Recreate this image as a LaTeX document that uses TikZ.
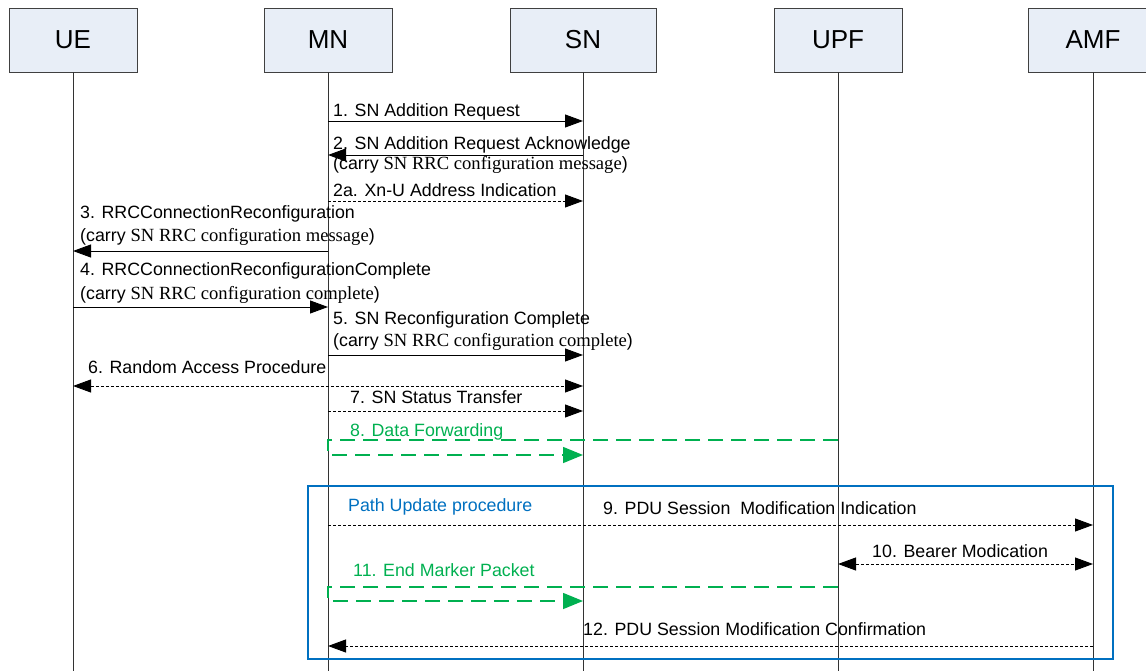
\documentclass[tikz,border=0pt]{standalone}
\usepackage{fontspec}
\setmainfont{Liberation Sans}
\newfontfamily\tms{Liberation Serif}
\usetikzlibrary{arrows.meta}
\definecolor{headfill}{RGB}{232,238,247}
\definecolor{fwdgreen}{RGB}{0,176,80}
\definecolor{procblue}{RGB}{0,112,192}
% second line of the RRC messages
\newcommand{\Carry}[1]{(carry {\tms\fontsize{18.6}{22}\selectfont SN RRC configuration #1})}
\tikzset{
	head/.style={draw=black!75,fill=headfill,minimum height=64pt,inner sep=0pt,font=\fontsize{26}{30}\selectfont},
	life/.style={line width=0.9pt,black!80},
	msg/.style={line width=0.9pt,-{Triangle[length=18pt,width=13pt]}},
	dmsg/.style={msg,dash pattern=on 3pt off 2pt},
	bimsg/.style={dmsg,{Triangle[length=18pt,width=13pt]}-{Triangle[length=18pt,width=13pt]}},
	fwd/.style={line width=1.5pt,fwdgreen,dash pattern=on 15pt off 8pt,-{Triangle[length=20pt,width=16pt]}},
	lbl/.style={anchor=base west,inner sep=0pt,font=\fontsize{17.8}{22}\selectfont},
}
\begin{document}
\begin{tikzpicture}[x=1pt,y=-1pt]
	\useasboundingbox (0,0) rectangle (1146,671);
	%heads and lifelines
	\foreach \n/\x/\w in {UE/73/128,MN/328/128,SN/583/146,UPF/838/128,AMF/1093/130}{
		\node[head,minimum width=\w pt] (\n) at (\x,40) {\n};
		\draw[life] (\n.south) -- (\n |- 0,671);
	}
	%1
	\node[lbl] (l1) at (333,117) {1. SN Addition Request};
	\draw[msg] (MN |- 0,121) -- (SN |- 0,121);
	%2
	\node[lbl] (l2) at (333,150) {2. SN Addition Request Acknowledge};
	\node[lbl] (l2b) at (333,170) {\Carry{message}};
	\draw[msg] (SN |- 0,155) -- (MN |- 0,155);
	%2a
	\node[lbl] (l2a) at (333,197) {2a. Xn-U Address Indication};
	\draw[dmsg] (MN |- 0,201) -- (SN |- 0,201);
	%3
	\node[lbl] (l3) at (80,219) {3. RRCConnectionReconfiguration};
	\node[lbl] (l3b) at (80,242) {\Carry{message}};
	\draw[msg] (MN |- 0,251) -- (UE |- 0,251);
	%4
	\node[lbl] (l4) at (80,276) {4. RRCConnectionReconfigurationComplete};
	\node[lbl] (l4b) at (80,299) {\Carry{complete}};
	\draw[msg] (UE |- 0,307) -- (MN |- 0,307);
	%5
	\node[lbl] (l5) at (333,324) {5. SN Reconfiguration Complete};
	\node[lbl] (l5b) at (333,346) {\Carry{complete}};
	\draw[msg] (MN |- 0,355) -- (SN |- 0,355);
	%6
	\node[lbl] (l6) at (88,373) {6. Random Access Procedure};
	\draw[bimsg] (UE |- 0,386) -- (SN |- 0,386);
	%7
	\node[lbl] (l7) at (350,403) {7. SN Status Transfer};
	\draw[dmsg] (MN |- 0,411) -- (SN |- 0,411);
	%8
	\node[lbl,fwdgreen] (l8) at (350,436) {8. Data Forwarding};
	\draw[fwd] (UPF |- 0,440) -- (MN |- 0,440) -- (MN |- 0,455) -- (SN |- 0,455);
	%path update
	\draw[procblue,line width=1.3pt] (308,486) rectangle (1113,659);
	\node[lbl,procblue] (pu) at (348,511) {Path Update procedure};
	%9
	\node[lbl] (l9) at (603,514) {9. PDU Session\ \ Modification Indication};
	\draw[dmsg] (MN |- 0,525) -- (AMF |- 0,525);
	%10
	\node[lbl] (l10) at (872,557) {10. Bearer Modication};
	\draw[bimsg] (UPF |- 0,564) -- (AMF |- 0,564);
	%11
	\node[lbl,fwdgreen] (l11) at (353,576) {11. End Marker Packet};
	\draw[fwd] (UPF |- 0,587) -- (MN |- 0,587) -- (MN |- 0,601) -- (SN |- 0,601);
	%12
	\node[lbl] (l12) at (583,635) {12. PDU Session Modification Confirmation};
	\draw[dmsg] (AMF |- 0,646) -- (MN |- 0,646);
\end{tikzpicture}
\end{document}
